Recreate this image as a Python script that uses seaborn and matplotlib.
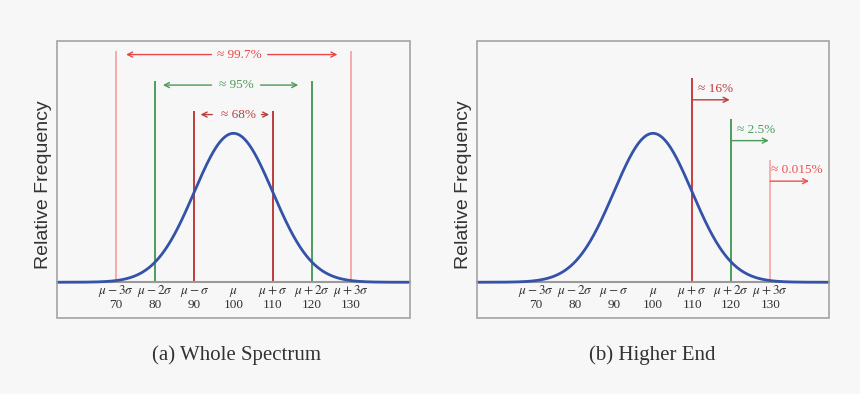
import numpy as np
import pandas as pd
import matplotlib
matplotlib.use("Agg")
import matplotlib.pyplot as plt
import seaborn as sns
from matplotlib.patches import Rectangle

# ---------------- data ----------------
MU = 100
SIGMA = 10
x_range = [55, 145]
y_range = [-0.24, 1.62]
tick_values = [70, 80, 90, 100, 110, 120, 130]
tick_symbols = [r"$\mu - 3\sigma$", r"$\mu - 2\sigma$", r"$\mu - \sigma$", r"$\mu$",
                r"$\mu + \sigma$", r"$\mu + 2\sigma$", r"$\mu + 3\sigma$"]

# (a) whole spectrum: symmetric bands
band_lows = [70, 80, 90]
band_highs = [130, 120, 110]
band_line_tops = [1.554, 1.351, 1.149]
band_arrow_y = [1.529, 1.324, 1.126]
band_arrow_left = [72.6, 82.0, 91.6]
band_arrow_right = [126.5, 116.5, 109.1]
band_gap_left = [94.4, 94.4, 94.6]
band_gap_right = [108.7, 106.9, 107.1]
band_text_x = [101.5, 100.7, 101.4]
band_labels = ["≈ 99.7%", "≈ 95%", "≈ 68%"]
band_line_colors = ["#f5a5a5", "#3f9650", "#b52d2d"]
band_text_colors = ["#e8474a", "#4b9a5c", "#b8403f"]

# (b) higher end: upper tails
tail_x = [110, 120, 130]
tail_line_tops = [1.369, 1.096, 0.824]
tail_arrow_y = [1.225, 0.951, 0.679]
tail_arrow_end = [119.6, 129.6, 139.9]
tail_text_x = [111.6, 121.6, 130.2]
tail_text_y = [1.297, 1.023, 0.751]
tail_labels = ["≈ 16%", "≈ 2.5%", "≈ 0.015%"]
tail_line_colors = ["#c0302f", "#3f9650", "#f7aaaa"]
tail_text_colors = ["#c0393b", "#4b9a5c", "#ee5050"]

captions = ["(a) Whole Spectrum", "(b) Higher End"]

# ---------------- style ----------------
sns.set_theme(style="white")
BG = "#f7f7f7"
plt.rcParams["font.family"] = ["Liberation Serif", "DejaVu Serif"]
plt.rcParams["mathtext.fontset"] = "stix"
plt.rcParams["figure.facecolor"] = BG
plt.rcParams["axes.facecolor"] = BG

xs = np.linspace(x_range[0], x_range[1], 500)
curve = pd.DataFrame({"x": xs, "y": np.exp(-0.5 * ((xs - MU) / SIGMA) ** 2)})

fig = plt.figure(figsize=(8.6, 3.94), dpi=100)
ax_a = fig.add_axes([57 / 860, 1 - 318 / 394, 353 / 860, 277 / 394])
ax_b = fig.add_axes([477 / 860, 1 - 318 / 394, 352 / 860, 277 / 394])


def base(ax):
    ax.set_xlim(*x_range)
    ax.set_ylim(*y_range)
    for s in ["top", "left", "right"]:
        ax.spines[s].set_visible(False)
    ax.spines["bottom"].set_position(("data", 0))
    ax.spines["bottom"].set_color("#9a9a9a")
    ax.spines["bottom"].set_linewidth(1.5)
    ax.add_patch(Rectangle((0, 0), 1, 1, transform=ax.transAxes, fill=False,
                           edgecolor="#a3a3a3", lw=1.2, clip_on=False, zorder=5))
    ax.set_yticks([])
    ax.set_xticks(tick_values)
    ax.set_xticklabels([f"{s}\n{v}" for s, v in zip(tick_symbols, tick_values)],
                       linespacing=0.95, va="baseline")
    ax.set_xticks([MU], minor=True)
    ax.tick_params(axis="x", which="major", length=0, pad=18.3, labelsize=9.5,
                   labelcolor="#333333")
    ax.tick_params(axis="x", which="minor", length=3, direction="in",
                   color="#888888", width=1)
    ax.set_xlabel("")
    ax.set_ylabel("")
    ax.text(-0.037, 0.48, "Relative Frequency", transform=ax.transAxes,
            rotation=90, ha="center", va="center", fontsize=14,
            family=["Liberation Sans", "DejaVu Sans"], color="#333333")


def arrow(ax, x0, x1, y, color):
    ax.annotate("", xy=(x1, y), xytext=(x0, y),
                arrowprops=dict(arrowstyle="->", color=color, lw=1.0,
                                shrinkA=0, shrinkB=0, mutation_scale=9))


# ---- panel (a) ----
base(ax_a)
for lo, hi, top, c in zip(band_lows, band_highs, band_line_tops, band_line_colors):
    ax_a.vlines([lo, hi], 0, top, color=c, lw=1.3, zorder=2)
for y, xl, xr, gl, gr, tx, lab, c in zip(band_arrow_y, band_arrow_left, band_arrow_right,
                                         band_gap_left, band_gap_right, band_text_x,
                                         band_labels, band_text_colors):
    arrow(ax_a, gl, xl, y, c)
    arrow(ax_a, gr, xr, y, c)
    ax_a.text(tx, y, lab, ha="center", va="center", fontsize=9.5, color=c)
sns.lineplot(data=curve, x="x", y="y", ax=ax_a, color="#3352a8", lw=2.0, zorder=4)

# ---- panel (b) ----
base(ax_b)
for x, top, c in zip(tail_x, tail_line_tops, tail_line_colors):
    ax_b.vlines(x, 0, top, color=c, lw=1.3, zorder=2)
for x, y, xe, tx, ty, lab, c in zip(tail_x, tail_arrow_y, tail_arrow_end, tail_text_x,
                                    tail_text_y, tail_labels, tail_text_colors):
    arrow(ax_b, x, xe, y, c)
    ax_b.text(tx, ty, lab, ha="left", va="center", fontsize=9.5, color=c)
sns.lineplot(data=curve, x="x", y="y", ax=ax_b, color="#3352a8", lw=2.0, zorder=4)

for ax in (ax_a, ax_b):
    ax.set_xlabel("")
    ax.set_ylabel("")

fig.text(236.7 / 860, 1 - 355 / 394, captions[0], ha="center", va="center",
         fontsize=15, color="#333333")
fig.text(652 / 860, 1 - 355 / 394, captions[1], ha="center", va="center",
         fontsize=15, color="#333333")

fig.savefig("out.png", dpi=100, facecolor=BG)
